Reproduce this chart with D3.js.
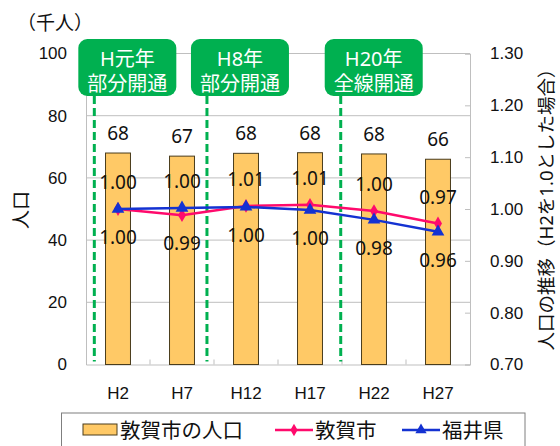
<!DOCTYPE html>
<html><head><meta charset="utf-8">
<script src="https://cdn.jsdelivr.net/npm/d3@7/dist/d3.min.js"></script>
<style>
body{margin:0;background:#fff;}
svg{display:block;font-family:"Noto Sans","Noto Sans CJK JP",sans-serif;}
</style></head><body>
<svg id="c" width="560" height="446"></svg>
<script>
const categories = ["H2","H7","H12","H17","H22","H27"];
const population = [68.0, 67.0, 67.9, 68.1, 67.7, 66.0];
const tsurugaIndex = [1.000, 0.988, 1.006, 1.008, 0.996, 0.972];
const fukuiIndex = [1.000, 1.002, 1.004, 0.998, 0.979, 0.956];
const leftTicks = [0, 20, 40, 60, 80, 100];
const rightTicks = [0.70, 0.80, 0.90, 1.00, 1.10, 1.20, 1.30];
const eventPos = [0.13, 1.89, 3.98];
const eventLine1 = ["H元年", "H8年", "H20年"];
const eventLine2 = ["部分開通", "部分開通", "全線開通"];
const seriesNames = ["敦賀市の人口", "敦賀市", "福井県"];

const svg = d3.select("#c");
const L = 86, R = 470, T = 53.5, B = 364.5;
const x = d3.scaleBand().domain(categories).range([L, R]).paddingInner(0.61).paddingOuter(0.305);
const step = x.step();
const xc = c => x(c) + x.bandwidth() / 2;
const xi = d3.scaleLinear().domain([0, categories.length]).range([L, R]);
const yL = d3.scaleLinear().domain([0, 100]).range([B, T]);
const yR = d3.scaleLinear().domain([0.7, 1.3]).range([B, T]);
const pink = "#ff0a6c", blue = "#1432d2", green = "#00b050", grid = "#bfbfbf";

// gridlines
svg.append("g").selectAll("line").data(leftTicks.filter(d => d > 0)).join("line")
  .attr("x1", L).attr("x2", R).attr("y1", d => yL(d)).attr("y2", d => yL(d))
  .attr("stroke", grid).attr("stroke-width", 1);

// left axis
const gl = svg.append("g").attr("transform", `translate(${L},0)`)
  .call(d3.axisLeft(yL).tickValues(leftTicks).tickSize(0).tickPadding(19));
gl.select(".domain").attr("stroke", grid);
gl.selectAll("text").attr("font-size", 17).attr("fill", "#111").attr("font-family", null);

// right axis
const gr = svg.append("g").attr("transform", `translate(${R},0)`)
  .call(d3.axisRight(yR).tickValues(rightTicks).tickSize(-5).tickPadding(20).tickFormat(d3.format(".2f")));
gr.select(".domain").attr("stroke", grid);
gr.selectAll(".tick line").attr("stroke", grid);
gr.selectAll("text").attr("font-size", 17).attr("fill", "#111").attr("font-family", null);

// bottom axis
const gb = svg.append("g").attr("transform", `translate(0,${B})`)
  .call(d3.axisBottom(x).tickSize(0).tickPadding(22));
gb.select(".domain").attr("stroke", grid);
gb.selectAll("text").attr("font-size", 17).attr("fill", "#111").attr("font-family", null);
// category boundary ticks
svg.append("g").selectAll("line").data(d3.range(1, categories.length)).join("line")
  .attr("x1", d => xi(d)).attr("x2", d => xi(d)).attr("y1", B).attr("y2", B - 5)
  .attr("stroke", grid);

// bars
svg.append("g").selectAll("rect").data(population).join("rect")
  .attr("x", (d, i) => x(categories[i])).attr("width", x.bandwidth())
  .attr("y", d => yL(d)).attr("height", d => B - yL(d))
  .attr("fill", "#ffc966").attr("stroke", "#4a3c1c").attr("stroke-width", 1);
svg.append("g").selectAll("text").data(population).join("text")
  .attr("x", (d, i) => xc(categories[i])).attr("y", d => yL(d) - 20)
  .attr("text-anchor", "middle").attr("dominant-baseline", "central")
  .attr("font-size", 19).attr("fill", "#111").text(d => d3.format(".0f")(d));

// dashed event lines
svg.append("g").selectAll("line").data(eventPos).join("line")
  .attr("x1", d => xi(d)).attr("x2", d => xi(d)).attr("y1", 96).attr("y2", B - 3)
  .attr("stroke", green).attr("stroke-width", 3).attr("stroke-dasharray", "8,4");

// lines
function drawSeries(vals, color, symbol, size) {
  const line = d3.line().x((d, i) => xc(categories[i])).y(d => yR(d));
  svg.append("path").datum(vals).attr("d", line).attr("fill", "none")
    .attr("stroke", color).attr("stroke-width", 2.5);
  svg.append("g").selectAll("path").data(vals).join("path")
    .attr("transform", (d, i) => `translate(${xc(categories[i])},${yR(d)})`)
    .attr("d", d3.symbol().type(symbol).size(size)).attr("fill", color);
}
drawSeries(tsurugaIndex, pink, d3.symbolDiamond, 55);
drawSeries(fukuiIndex, blue, d3.symbolTriangle, 70);

// value labels for index series
const fmt2 = d3.format(".2f");
const lbl = svg.append("g").attr("font-size", 19).attr("fill", "#111").attr("text-anchor", "middle").attr("dominant-baseline", "central");
categories.forEach((c, i) => {
  const pUp = tsurugaIndex[i] >= fukuiIndex[i];
  lbl.append("text").attr("x", xc(c)).attr("y", yR(tsurugaIndex[i]) + (pUp ? -27 : 28)).text(fmt2(tsurugaIndex[i]));
  lbl.append("text").attr("x", xc(c)).attr("y", yR(fukuiIndex[i]) + (pUp ? 28 : -27)).text(fmt2(fukuiIndex[i]));
});

// event boxes
const eg = svg.append("g").selectAll("g").data(eventPos).join("g")
  .attr("transform", d => `translate(${xi(d) - 16},39)`);
eg.append("rect").attr("width", 98).attr("height", 57).attr("rx", 9).attr("fill", green);
eg.append("text").attr("x", 49).attr("y", 19).attr("text-anchor", "middle").attr("dominant-baseline", "central")
  .attr("font-size", 20).attr("fill", "#fff").text((d, i) => eventLine1[i]);
eg.append("text").attr("x", 49).attr("y", 44).attr("text-anchor", "middle").attr("dominant-baseline", "central")
  .attr("font-size", 20).attr("fill", "#fff").text((d, i) => eventLine2[i]);

// titles
svg.append("text").attr("x", 17).attr("y", 23).attr("dominant-baseline", "central")
  .attr("font-size", 19).attr("fill", "#111").text("（千人）");
svg.append("text").attr("transform", "translate(21,210) rotate(-90)").attr("text-anchor", "middle")
  .attr("dominant-baseline", "central").attr("font-size", 19).attr("fill", "#111").text("人口");
svg.append("text").attr("transform", "translate(545,205) rotate(-90)").attr("text-anchor", "middle")
  .attr("dominant-baseline", "central").attr("font-size", 18.5).attr("fill", "#111").text("人口の推移（H2を1.0とした場合）");

// legend
const lg = svg.append("g");
lg.append("rect").attr("x", 61.5).attr("y", 413).attr("width", 463.5).attr("height", 45)
  .attr("fill", "#fff").attr("stroke", "#7f7f7f").attr("stroke-width", 1);
lg.append("rect").attr("x", 83).attr("y", 424).attr("width", 34).attr("height", 11)
  .attr("fill", "#ffc966").attr("stroke", "#4a3c1c");
lg.append("line").attr("x1", 275).attr("x2", 313).attr("y1", 430).attr("y2", 430).attr("stroke", pink).attr("stroke-width", 2.5);
lg.append("path").attr("transform", "translate(294,430)").attr("d", d3.symbol().type(d3.symbolDiamond).size(45)).attr("fill", pink);
lg.append("line").attr("x1", 402).attr("x2", 440).attr("y1", 430).attr("y2", 430).attr("stroke", blue).attr("stroke-width", 2.5);
lg.append("path").attr("transform", "translate(421,430)").attr("d", d3.symbol().type(d3.symbolTriangle).size(55)).attr("fill", blue);
const lx = [120, 315, 442];
lg.selectAll("text.l").data(seriesNames).join("text").attr("class", "l")
  .attr("x", (d, i) => lx[i]).attr("y", 430).attr("dominant-baseline", "central")
  .attr("font-size", 20.5).attr("fill", "#111").text(d => d);
</script></body></html>
